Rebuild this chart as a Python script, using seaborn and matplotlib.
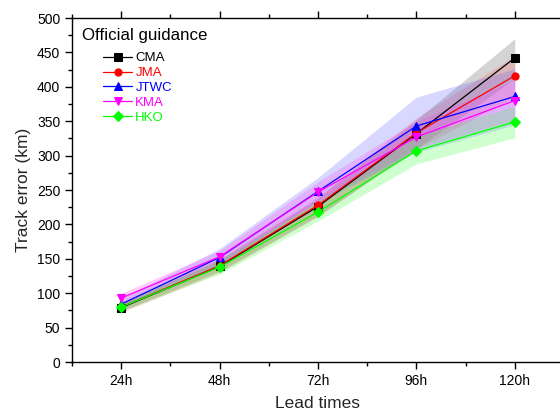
import numpy as np
import pandas as pd
import matplotlib
matplotlib.use("Agg")
import matplotlib.pyplot as plt
import seaborn as sns
from matplotlib.ticker import MultipleLocator

# --- data ---
lead_hours = [24, 48, 72, 96, 120]
lead_labels = ["24h", "48h", "72h", "96h", "120h"]

cma = [79, 139, 226, 332, 442]
jma = [80, 140, 228, 333, 416]
jtwc = [84, 152, 248, 343, 386]
kma = [93, 153, 247, 327, 380]
hko = [80, 138, 218, 307, 349]

cma_lo = [74, 132, 212, 310, 412]
cma_hi = [86, 148, 238, 352, 470]
jma_lo = [72, 130, 212, 310, 385]
jma_hi = [88, 150, 240, 355, 445]
jtwc_lo = [78, 142, 232, 305, 345]
jtwc_hi = [92, 165, 268, 385, 426]
kma_lo = [86, 142, 235, 310, 352]
kma_hi = [100, 162, 262, 350, 410]
hko_lo = [74, 128, 205, 288, 326]
hko_hi = [86, 148, 232, 328, 372]

agencies = ["CMA", "JMA", "JTWC", "KMA", "HKO"]
colors = ["#000000", "#FF0000", "#0000FF", "#FF00FF", "#00FF00"]
band_colors = ["#555555", "#FF6060", "#6060FF", "#FF40FF", "#40FF40"]
markers = ["s", "o", "^", "v", "D"]
means = [cma, jma, jtwc, kma, hko]
lows = [cma_lo, jma_lo, jtwc_lo, kma_lo, hko_lo]
highs = [cma_hi, jma_hi, jtwc_hi, kma_hi, hko_hi]

sns.set_theme(style="ticks")
plt.rcParams["font.family"] = ["Liberation Sans", "DejaVu Sans"]

fig = plt.figure(figsize=(5.6, 4.15), dpi=100)
ax = fig.add_axes([0.1286, 0.1277, 0.8785, 0.8289])

# bands first, then lines
for lo, hi, bc in zip(lows, highs, band_colors):
    ax.fill_between(lead_hours, lo, hi, color=bc, alpha=0.25, linewidth=0)

for name, vals, c, m in zip(agencies, means, colors, markers):
    df = pd.DataFrame({"lead": lead_hours, "err": vals})
    sns.lineplot(data=df, x="lead", y="err", ax=ax, color=c, marker=m,
                 markersize=5.2, markeredgecolor=c, linewidth=0.9, label=name)

ax.set_xlim(12, 132)
ax.set_ylim(0, 500)
ax.set_xticks(lead_hours)
ax.set_xticklabels(lead_labels)
ax.xaxis.set_minor_locator(MultipleLocator(12))
ax.yaxis.set_major_locator(MultipleLocator(50))
ax.yaxis.set_minor_locator(MultipleLocator(25))

for s in ax.spines.values():
    s.set_linewidth(1.0)
    s.set_color("black")
ax.tick_params(which="both", direction="out", colors="black", labelsize=10,
               top=True, labeltop=False, width=1.0)
ax.tick_params(which="major", length=5)
ax.tick_params(which="minor", length=3)

ax.set_xlabel("Lead times", fontsize=12.5, labelpad=6)
ax.set_ylabel("Track error (km)", fontsize=12.5, labelpad=4)

# legend title drawn as text, entries indented below it
ax.text(0.0203, 0.9506, "Official guidance", transform=ax.transAxes,
        fontsize=12.2, ha="left", va="center", color="black")
leg = ax.legend(loc="upper left", frameon=False, fontsize=9.5,
                handlelength=2.2, handletextpad=0.25, labelspacing=0.2,
                borderpad=0, borderaxespad=0,
                bbox_to_anchor=(0.063, 0.901))
for txt, c in zip(leg.get_texts(), colors):
    txt.set_color(c)

fig.savefig("out.png", dpi=100)
